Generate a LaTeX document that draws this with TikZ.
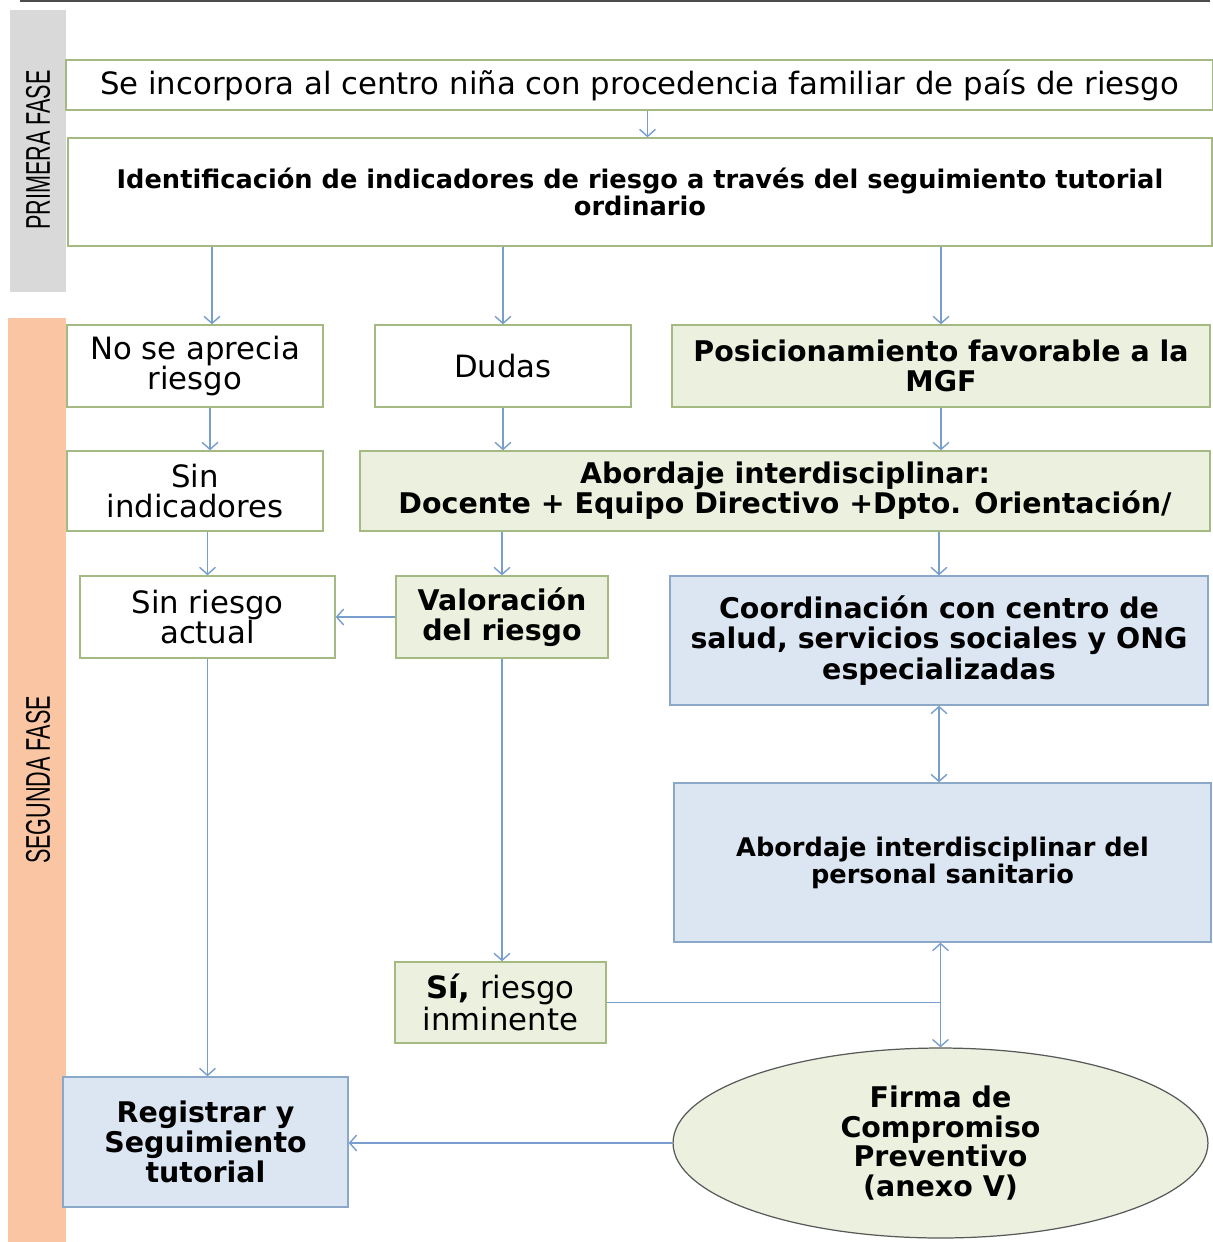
\documentclass[tikz,border=0pt]{standalone}
\usepackage{fontspec}
\setmainfont{DejaVu Sans}
\newfontfamily\fasefont[FakeStretch=0.63]{Liberation Sans}
\usetikzlibrary{arrows.meta,shapes.geometric}

\definecolor{boxline}{RGB}{165,185,130}
\definecolor{greenfill}{RGB}{235,241,222}
\definecolor{blueline}{RGB}{140,168,200}
\definecolor{bluefill}{RGB}{220,230,242}
\definecolor{linkblue}{RGB}{120,158,205}
\definecolor{fasegray}{RGB}{217,217,217}
\definecolor{faseorange}{RGB}{250,197,162}
\newcommand{\fs}[2]{\fontsize{#1}{#2}\selectfont}

\tikzset{
  >={Straight Barb[length=4pt,width=9pt]},
  box/.style={draw=boxline,line width=0.8pt,fill=white,align=center,inner sep=2pt,font=\fs{17.5}{17.2}},
  greenbox/.style={box,fill=greenfill,font=\bfseries\fs{16.2}{17.2}},
  bluebox/.style={box,draw=blueline,fill=bluefill,font=\bfseries\fs{16.2}{17.2}},
  link/.style={draw=linkblue,line width=0.8pt},
  fase/.style={rotate=90,font=\fasefont\fs{19.5}{22}}
}

\begin{document}
\begin{tikzpicture}[x=0.02cm,y=-0.02cm]
  \useasboundingbox (0,0) rectangle (1213,1242);
  \draw[line width=1.5pt,black!70] (20,1) -- (1210,1); %frame top
  \fill[fasegray] (10,10) rectangle (66,292);      %first phase
  \fill[faseorange] (8,318) rectangle (66,1242);   %second phase
  \node[fase] (fase1) at (38,150) {PRIMERA FASE};
  \node[fase] (fase2) at (38,780) {SEGUNDA FASE};

  \node[box,minimum width=22.94cm,minimum height=1cm] (inicio) at (639.5,85)
    {Se incorpora al centro niña con procedencia familiar de país de riesgo};
  \node[box,minimum width=22.88cm,minimum height=2.16cm,font=\bfseries\fs{14.6}{15}] (ident) at (640,192)
    {Identificación de indicadores de riesgo a través del seguimiento tutorial\\ordinario};

  \node[box,minimum width=5.12cm,minimum height=1.64cm] (noapr) at (195,366) {No se aprecia\\riesgo};
  \node[box,minimum width=5.12cm,minimum height=1.64cm] (dudas) at (503,366) {Dudas};
  \node[greenbox,minimum width=10.76cm,minimum height=1.64cm] (posic) at (941,366)
    {Posicionamiento favorable a la\\MGF};

  \node[box,minimum width=5.12cm,minimum height=1.6cm] (sinind) at (195,491) {Sin\\indicadores};
  \node[greenbox,minimum width=17cm,minimum height=1.6cm] (abord) at (785,491)
    {Abordaje interdisciplinar:\\Docente + Equipo Directivo +Dpto. Orientación/};

  \node[box,minimum width=5.1cm,minimum height=1.64cm] (sinries) at (207.5,617) {Sin riesgo\\actual};
  \node[greenbox,minimum width=4.24cm,minimum height=1.64cm] (valor) at (502,617) {Valoración\\del riesgo};
  \node[bluebox,minimum width=10.76cm,minimum height=2.58cm] (coord) at (939,640.5)
    {Coordinación con centro de\\salud, servicios sociales y ONG\\especializadas};

  \node[bluebox,minimum width=10.74cm,minimum height=3.18cm,font=\bfseries\fs{14.6}{15.4}] (sanit) at (942.5,862.5)
    {Abordaje interdisciplinar del\\personal sanitario};
  \node[greenbox,minimum width=4.22cm,minimum height=1.62cm,font=\fs{17.5}{16.6}] (si) at (500.5,1002.5)
    {\textbf{Sí,} riesgo\\inminente};

  \node[bluebox,minimum width=5.7cm,minimum height=2.6cm] (regis) at (205.5,1142)
    {Registrar y\\Seguimiento\\tutorial};
  \node[ellipse,draw=black!65,line width=0.7pt,fill=greenfill,align=center,inner sep=0pt,
    minimum width=10.7cm,minimum height=3.8cm,font=\bfseries\fs{16.2}{17}] (firma) at (940.5,1143)
    {Firma de\\Compromiso\\Preventivo\\(anexo V)};

  \draw[link,->] ([xshift=0.16cm]inicio.south) -- ([xshift=0.16cm]inicio.south |- ident.north);
  \draw[link,->] ([xshift=0.34cm]noapr.north |- ident.south) -- ([xshift=0.34cm]noapr.north);
  \draw[link,->] (dudas.north |- ident.south) -- (dudas.north);
  \draw[link,->] (posic.north |- ident.south) -- (posic.north);
  \draw[link,->] ([xshift=0.3cm]noapr.south) -- ([xshift=0.3cm]sinind.north);
  \draw[link,->] (dudas.south) -- (dudas.south |- abord.north);
  \draw[link,->] (posic.south) -- (posic.south |- abord.north);
  \draw[link,->] (sinries.north |- sinind.south) -- (sinries.north);
  \draw[link,->] (valor.north |- abord.south) -- (valor.north);
  \draw[link,->] (coord.north |- abord.south) -- (coord.north);
  \draw[link,->] (valor.west) -- (sinries.east);
  \draw[link,<->] (coord.south) -- (coord.south |- sanit.north);
  \draw[link,->] (valor.south) -- (valor.south |- si.north);
  \draw[link,->] (sinries.south) -- (sinries.south |- regis.north);
  \draw[link] (si.east) -- (si.east -| firma.north);
  \draw[link,<->] (firma.north |- sanit.south) -- (firma.north);
  \draw[link,->] (firma.west) -- (firma.west -| regis.east);
\end{tikzpicture}
\end{document}
